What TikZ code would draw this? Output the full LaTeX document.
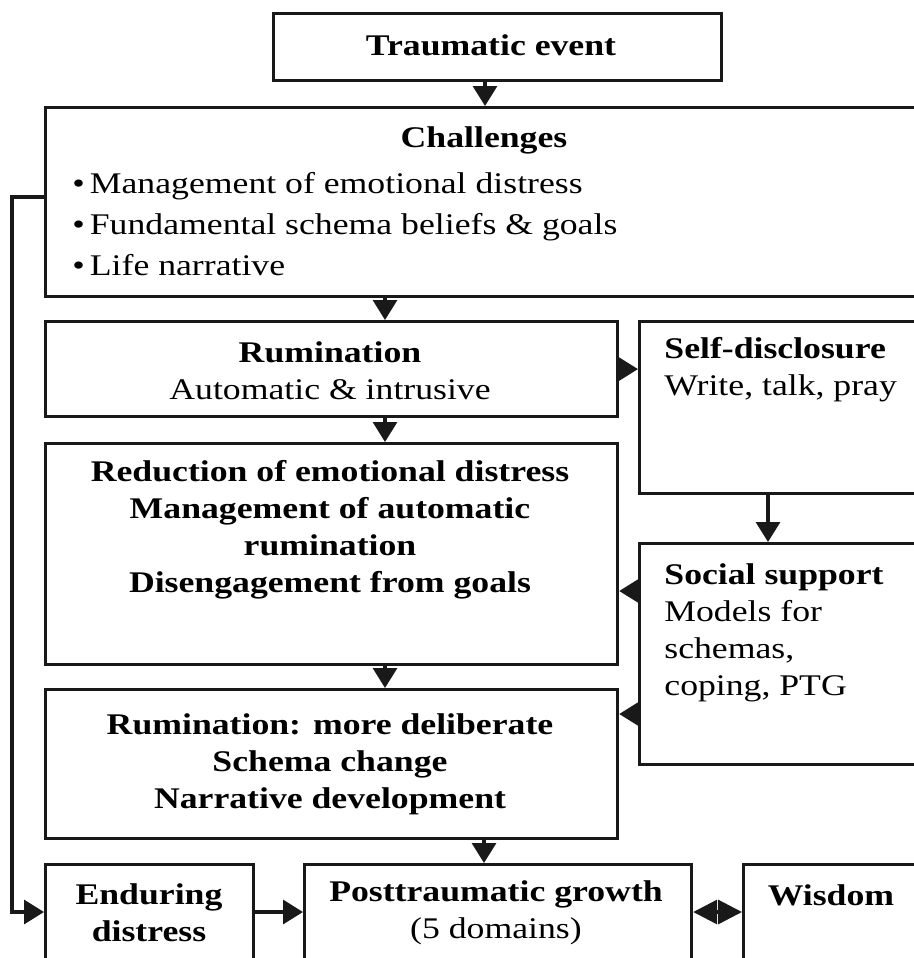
\documentclass[tikz,border=0pt]{standalone}
\usepackage{fontspec}
\setmainfont{Liberation Serif}[FakeStretch=1.19]
\usetikzlibrary{arrows.meta}

\tikzset{
  box/.style={draw=black!90, line width=1.6pt, inner sep=0pt, anchor=north west},
  lbl/.style={inner sep=0pt, align=center, font=\fontsize{15}{18.5}\selectfont},
  lbll/.style={inner sep=0pt, align=left, anchor=west, font=\fontsize{15}{18.5}\selectfont},
  link/.style={draw=black!90, line width=1.6pt},
  arr/.style={link, -{Triangle[length=10pt,width=12pt]}},
  dblarr/.style={link, {Triangle[length=12pt,width=12pt]}-{Triangle[length=12pt,width=12pt]}},
}

\begin{document}
\begin{tikzpicture}[x=0.5pt,y=-0.5pt]
\useasboundingbox (0,0) rectangle (914,958);
\fill[white] (0,0) rectangle (914,958);
\clip (0,0) rectangle (914,958);

% boxes
\node[box, minimum width=224pt, minimum height=33.5pt] (te)  at (272,12)  {};
\node[box, minimum width=443pt, minimum height=94.5pt] (ch)  at (44,106)  {};
\node[box, minimum width=286pt, minimum height=47.5pt] (ru)  at (44,320)  {};
\node[box, minimum width=147pt, minimum height=86pt]   (sd)  at (638,320) {};
\node[box, minimum width=286pt, minimum height=110.5pt] (rd) at (44,442)  {};
\node[box, minimum width=147pt, minimum height=110.5pt] (ss) at (638,542) {};
\node[box, minimum width=286pt, minimum height=74.5pt] (rdl) at (44,688)  {};
\node[box, minimum width=104pt, minimum height=56pt]   (ed)  at (44,863)  {};
\node[box, minimum width=193.5pt, minimum height=56pt] (ptg) at (303,863) {};
\node[box, minimum width=94pt, minimum height=56pt]    (wi)  at (742,863) {};

% texts
\node[lbl] (teT) at (491,45) {\bfseries Traumatic event};
\node[lbl] (chT) at (484,140) {\bfseries Challenges};
\node[lbll, font=\fontsize{15}{20.5}\selectfont] (chL) at (72,224)
  {\textbullet\,Management of emotional distress\\
   \textbullet\,Fundamental schema beliefs \& goals\\
   \textbullet\,Life narrative};
\node[lbl] (ruT) at (330,371) {\textbf{Rumination}\\Automatic \& intrusive};
\node[lbll] (sdT) at (664,370) {\textbf{Self-disclosure}\\Write, talk, pray};
\node[lbl] (rdT) at (330,530) {\bfseries Reduction of emotional distress\\
  \bfseries Management of automatic\\ \bfseries rumination\\
  \bfseries Disengagement from goals};
\node[lbll] (ssT) at (664,633) {\textbf{Social support}\\Models for\\schemas,\\coping, PTG};
\node[lbl] (rdlT) at (330,764) {\bfseries Rumination: more deliberate\\
  \bfseries Schema change\\ \bfseries Narrative development};
\node[lbl] (edT) at (149,913) {\bfseries Enduring\\ \bfseries distress};
\node[lbl] (ptgT) at (496,913) {\textbf{Posttraumatic growth}\\(5 domains)};
\node[lbl] (wiT) at (831,895) {\bfseries Wisdom};

% connector guides
\coordinate (xa) at (485,0);
\coordinate (xb) at (385,0);
\coordinate (xc) at (484,0);
\coordinate (xd) at (768,0);
\coordinate (ya) at (0,591);
\coordinate (yb) at (0,714);
\coordinate (yc) at (0,912);
\coordinate (fb) at (12,197);

% connectors
\draw[arr] (xa |- te.south) -- (xa |- ch.north);
\draw[arr] (xb |- ch.south) -- (xb |- ru.north);
\draw[arr] (xb |- ru.south) -- (xb |- rd.north);
\draw[arr] (xb |- rd.south) -- (xb |- rdl.north);
\draw[arr] (xc |- rdl.south) -- (xc |- ptg.north);
\draw[arr] (ru.east) -- (ru.east -| sd.west);
\draw[arr] (xd |- sd.south) -- (xd |- ss.north);
\draw[arr] (ss.west |- ya) -- (rd.east |- ya);
\draw[arr] (ss.west |- yb) -- (rdl.east |- yb);
\draw[arr] (ed.east |- yc) -- (ptg.west |- yc);
\draw[dblarr] (ptg.east |- yc) -- (wi.west |- yc);
\draw[arr] (ch.west |- fb) -- (fb) -- (fb |- yc) -- (ed.west |- yc);
\end{tikzpicture}
\end{document}
